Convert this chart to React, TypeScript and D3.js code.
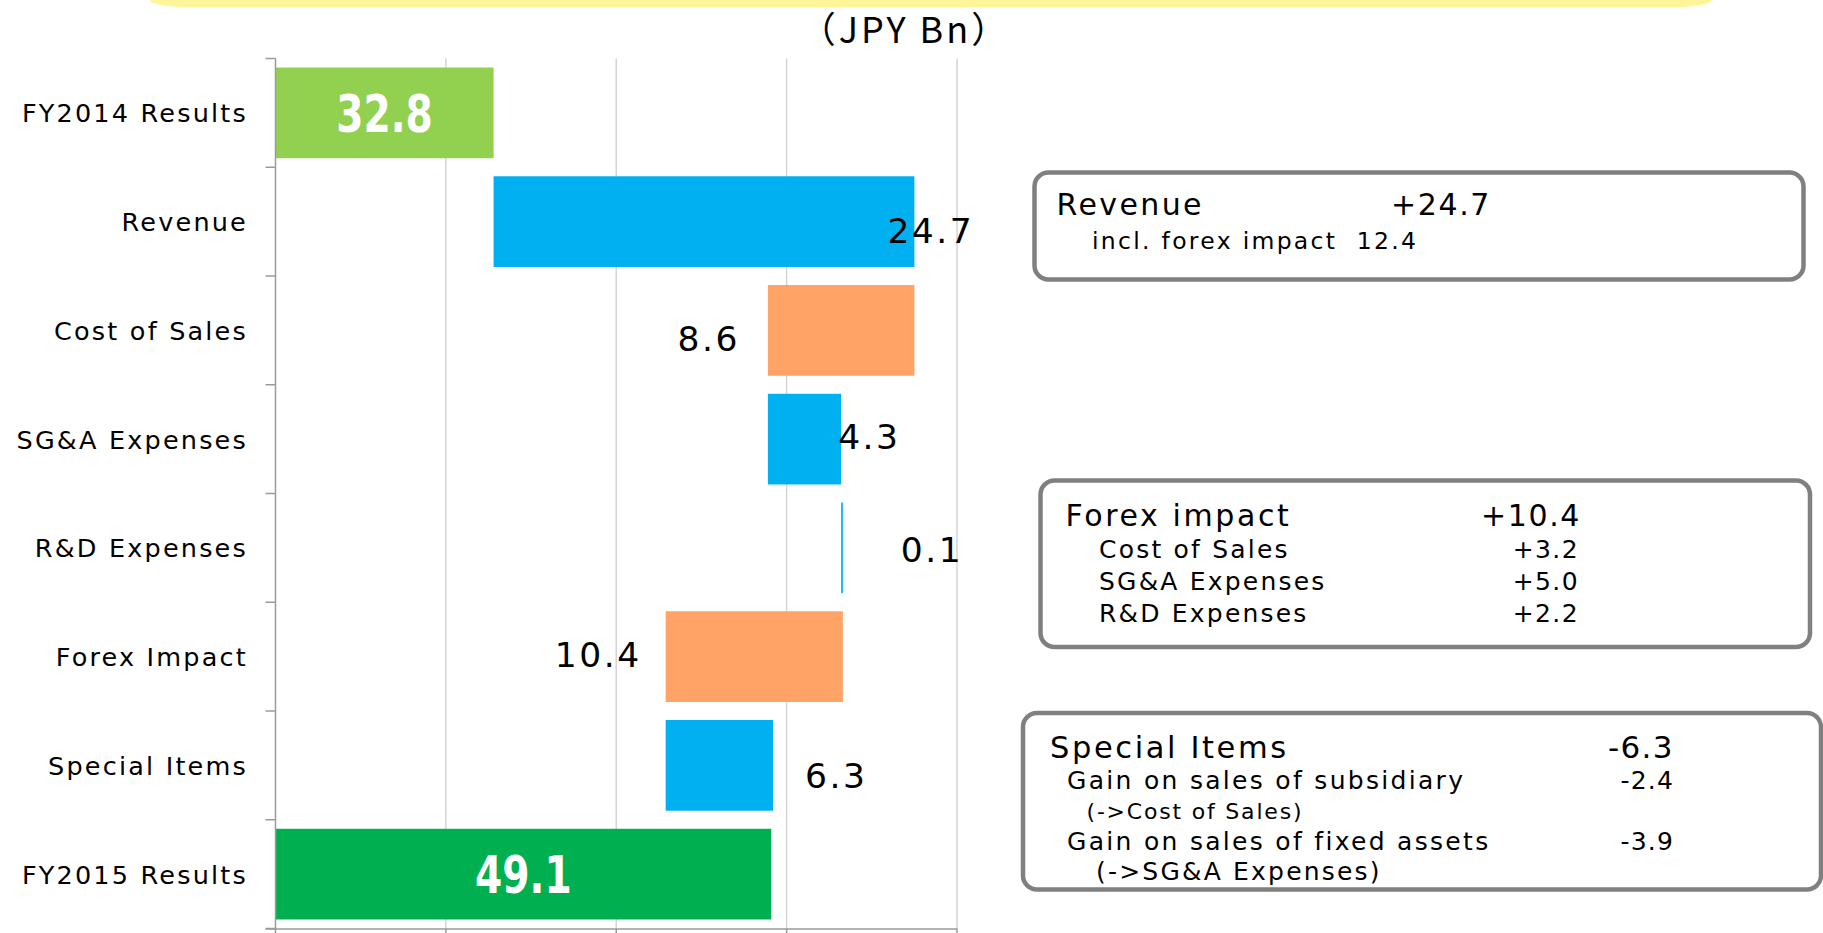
import React from "react";
import * as d3 from "d3";

// bridge chart: operating income FY2014 -> FY2015 (JPY Bn)
const categories = [
  "FY2014 Results",
  "Revenue",
  "Cost of Sales",
  "SG&A Expenses",
  "R&D Expenses",
  "Forex Impact",
  "Special Items",
  "FY2015 Results",
];
const changes = [32.8, 24.7, -8.6, 4.3, 0.1, -10.4, 6.3, 49.1];
const kinds = ["total", "up", "down", "up", "up", "down", "up", "total"];
const gridTicks = [20, 30, 40, 50, 60];

const revenueNotes = [
  { text: "incl. forex impact  12.4", value: "" },
];
const forexNotes = [
  { text: "Cost of Sales", value: "+3.2" },
  { text: "SG&A Expenses", value: "+5.0" },
  { text: "R&D Expenses", value: "+2.2" },
];
const specialNotes = [
  { text: "Gain on sales of subsidiary", value: "-2.4", sub: "(->Cost of Sales)" },
  { text: "Gain on sales of fixed assets", value: "-3.9", sub: "(->SG&A Expenses)" },
];

// label nudges (px) for the change labels, hand placed like the original slide
const labelSide = ["in", "endIn", "left", "right", "right", "left", "right", "in"];
const labelDx = [0, -27, -28, -3, 58, -24, 32, 0];
const labelDy = [0, 9, 8, -3, 2, -2, 10, 0];

const colors: Record<string, string> = {
  first: "#92D050",
  last: "#00B050",
  up: "#00B0F0",
  down: "#FFA366",
};

const W = 1823;
const H = 933;
const FONT = "'DejaVu Sans', sans-serif";

export default function App() {
  const x = d3.scaleLinear().domain([20, 60]).range([275.5, 957]);
  const y = d3
    .scaleBand<string>()
    .domain(categories)
    .range([58.5, 928.5])
    .paddingInner(0.166)
    .paddingOuter(0.083);

  // running totals for the floating bars
  let running = 0;
  const bars = categories.map((c, i) => {
    const v = changes[i];
    let from: number, to: number;
    if (kinds[i] === "total") {
      from = x.domain()[0];
      to = v;
      running = v;
    } else {
      from = running;
      to = running + v;
      running = to;
    }
    const fill =
      kinds[i] === "total" ? (i === 0 ? colors.first : colors.last) : colors[kinds[i]];
    return { c, i, v, x0: Math.min(x(from), x(to)), x1: Math.max(x(from), x(to)), fill };
  });

  const step = y.step();
  const top = y.range()[0];
  const bottom = y.range()[1];
  const boundaries = d3.range(categories.length + 1).map((k) => top + k * step);

  return (
    <svg
      width={W}
      height={H}
      style={{ position: "absolute", left: 0, top: 0, background: "#fff" }}
    >
      {/* yellow banner peeking at the top */}
      <rect x={150} y={-50} width={1562} height={57} rx={37} ry={7} fill="#FFF599" />

      <text
        x={905}
        y={43}
        textAnchor="middle"
        fontFamily="'Noto Sans CJK JP', sans-serif"
        fontSize={36}
        letterSpacing={3}
        fill="#000"
      >
        （JPY Bn）
      </text>

      {/* grid */}
      {gridTicks.slice(1).map((t) => (
        <line key={t} x1={x(t)} x2={x(t)} y1={top} y2={bottom} stroke="#d4d4d4" strokeWidth={1.5} />
      ))}

      {/* bars */}
      {bars.map((b) => (
        <rect
          key={b.c}
          x={b.x0}
          y={y(b.c)}
          width={Math.max(b.x1 - b.x0, 1.5)}
          height={y.bandwidth()}
          fill={b.fill}
        />
      ))}

      {/* axes */}
      <line x1={x(20)} x2={x(20)} y1={top} y2={bottom + 1} stroke="#9a9a9a" strokeWidth={1.5} />
      {boundaries.map((b, k) => (
        <line key={k} x1={x(20) - 10} x2={x(20)} y1={b} y2={b} stroke="#9a9a9a" strokeWidth={1.5} />
      ))}
      <line x1={x(20) - 10} x2={x(60)} y1={bottom + 0.5} y2={bottom + 0.5} stroke="#9a9a9a" strokeWidth={1.5} />
      {gridTicks.map((t) => (
        <line key={t} x1={x(t)} x2={x(t)} y1={bottom} y2={bottom + 8} stroke="#9a9a9a" strokeWidth={1.5} />
      ))}

      {/* category labels */}
      {categories.map((c) => (
        <text
          key={c}
          x={248}
          y={(y(c) as number) + y.bandwidth() / 2 + 9.5}
          textAnchor="end"
          fontFamily={FONT}
          fontSize={25.5}
          letterSpacing={2.2}
          fill="#000"
        >
          {c}
        </text>
      ))}

      {/* value labels */}
      {bars.map((b) => {
        const cy = (y(b.c) as number) + y.bandwidth() / 2;
        const label = Math.abs(b.v).toFixed(1);
        if (labelSide[b.i] === "in") {
          const cx = (b.x0 + b.x1) / 2;
          return (
            <text
              key={b.c}
              transform={`translate(${cx},${cy + 19}) scale(0.8,1.04)`}
              textAnchor="middle"
              fontFamily={FONT}
              fontWeight="bold"
              fontSize={49}
              fill="#fff"
            >
              {label}
            </text>
          );
        }
        const side = labelSide[b.i];
        const anchorX = side === "left" ? b.x0 : b.x1;
        return (
          <text
            key={b.c}
            x={anchorX + labelDx[b.i]}
            y={cy + labelDy[b.i] + 12.6}
            textAnchor={side === "left" ? "end" : "start"}
            fontFamily={FONT}
            fontSize={34.5}
            letterSpacing={2.5}
            fill="#000"
          >
            {label}
          </text>
        );
      })}

      {/* note boxes */}
      <g fontFamily={FONT} fill="#000">
        <rect x={1034.5} y={172.5} width={769} height={107} rx={14} fill="#fff" stroke="#808080" strokeWidth={4.5} />
        <text x={1056.5} y={215} fontSize={30} letterSpacing={2.4}>Revenue</text>
        <text x={1491} y={215} fontSize={30} letterSpacing={1.6} textAnchor="end">+24.7</text>
        {revenueNotes.map((n) => (
          <text key={n.text} x={1092} y={249} fontSize={23.5} letterSpacing={2.3} style={{ whiteSpace: "pre" }}>
            {n.text}
          </text>
        ))}

        <rect x={1040.5} y={480.5} width={769.5} height={166.5} rx={14} fill="#fff" stroke="#808080" strokeWidth={4.5} />
        <text x={1065.5} y={526} fontSize={30} letterSpacing={2.6}>Forex impact</text>
        <text x={1581} y={526} fontSize={30} letterSpacing={1.6} textAnchor="end">+10.4</text>
        {forexNotes.map((n, k) => (
          <g key={n.text}>
            <text x={1099} y={557.5 + k * 32} fontSize={25} letterSpacing={2.2}>{n.text}</text>
            <text x={1579} y={557.5 + k * 32} fontSize={25} letterSpacing={1.4} textAnchor="end">{n.value}</text>
          </g>
        ))}

        <rect x={1023} y={713} width={798} height={176.5} rx={14} fill="#fff" stroke="#808080" strokeWidth={4.5} />
        <text x={1050} y={758} fontSize={30.5} letterSpacing={2.6}>Special Items</text>
        <text x={1674} y={758} fontSize={31} letterSpacing={1.4} textAnchor="end">-6.3</text>
        {specialNotes.map((n, k) => (
          <g key={n.text}>
            <text x={1067} y={789 + k * 61} fontSize={25} letterSpacing={2.3}>{n.text}</text>
            <text x={1674} y={789 + k * 61} fontSize={25} letterSpacing={1.2} textAnchor="end">{n.value}</text>
            <text x={k === 0 ? 1086.5 : 1096} y={819 + k * 61} fontSize={k === 0 ? 22 : 25} letterSpacing={k === 0 ? 1.8 : 2.2}>
              {n.sub}
            </text>
          </g>
        ))}
      </g>
    </svg>
  );
}
